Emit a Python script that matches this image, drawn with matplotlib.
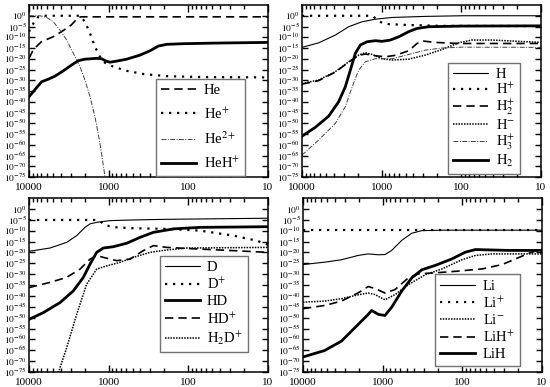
import numpy as np
import matplotlib
matplotlib.use('Agg')
import matplotlib.pyplot as plt
from matplotlib.ticker import FixedLocator, LogLocator, NullFormatter
from matplotlib.transforms import ScaledTranslation

plt.rcParams['font.family'] = ['Liberation Serif', 'DejaVu Serif']
plt.rcParams['mathtext.fontset'] = 'stix'

# ---- data: temperature (K) and log10 fractional abundance ----
# helium panel
he_T = [10000, 8800, 7000, 5000, 3900, 2950, 2400, 2200, 1000, 100, 10]
he_v = [-19.8, -15.7, -12.1, -9.8, -7.4, -4.3, -0.8, -0.5, -0.5, -0.5, -0.5]
hep_T = [10000, 8825, 7640, 6607, 2290, 1983, 1714, 1485, 1285, 1112, 874, 594, 367, 187, 71.4, 10]
hep_v = [-7.4, -3.6, -0.5, 0, 0, -2.8, -8.2, -14.4, -19.1, -21.9, -23.7, -25.6, -27.1, -28.1, -28.5, -28.7]
hepp_T = [10000, 7280, 5997, 4955, 4083, 3365, 2777, 2290, 1983, 1714, 1485, 1285, 1144, 1112]
hepp_v = [0, 0, -0.8, -2.8, -6.7, -11.3, -17.5, -23.7, -29.9, -37.7, -47, -59.4, -71.8, -75.2]
heh_T = [10000, 8407, 6934, 5716, 4717, 3706, 2914, 2403, 1983, 1415, 1225, 1080, 962, 794, 594,
         404, 303, 238, 187, 116, 44, 10]
heh_v = [-37.7, -34.3, -30.7, -29.5, -28.1, -25.6, -22.9, -20.9, -20.2, -19.8, -20, -21.1, -21.6,
         -21.1, -20.2, -18.3, -16.3, -14.1, -13.3, -13, -12.7, -12.4]

# hydrogen panel
h_T = [10000, 6180, 3818, 2595, 1765, 1200, 741, 283, 98, 10]
h_v = [-14.7, -12.6, -9.0, -5.1, -2.8, -1.6, -0.8, -0.3, 0, 0]
hp_T = [10000, 1322, 1145, 991, 817, 458, 175, 10]
hp_v = [0, 0, -1.7, -3.3, -3.9, -4.3, -4.7, -4.8]
h2p_T = [10000, 6180, 3818, 2595, 1945, 1603, 1200, 900, 674, 458, 360, 297, 212, 108, 10]
h2p_v = [-31.8, -30.2, -26.2, -21.6, -18.4, -17.8, -18.6, -19.1, -18.4, -16.3, -12.9, -11.8, -12.4,
         -12.9, -12.9]
hm_T = [10000, 6180, 3818, 2595, 1945, 1603, 1322, 991, 741, 458, 283, 175, 108, 73.5, 41.2, 10]
hm_v = [-31.5, -29.9, -26, -21.4, -18.3, -17.2, -18, -20, -20.6, -20.2, -18.3, -15.7, -12.6, -11.3,
        -11.3, -12.4]
h3p_T = [10000, 6180, 3818, 2857, 2356, 1945, 1603, 1200, 741, 458, 283, 175, 98, 10]
h3p_v = [-64.8, -57.8, -50.1, -42.3, -33.3, -25.3, -21.4, -20, -20, -18, -16, -15, -14.6, -14.7]
h2_T = [10000, 6802, 4627, 3467, 2857, 2473, 2141, 1853, 1528, 1200, 991, 778, 612, 458, 360,
        257, 98, 10]
h2_v = [-56, -51.9, -46.7, -40, -33, -25.3, -17.5, -13.6, -12.1, -11.6, -11.9, -11.3, -9.8, -7.4,
        -5.9, -5.1, -4.8, -4.7]

# deuterium panel
d_T = [10000, 5448, 3365, 2521, 1983, 1714, 1415, 962, 490, 187, 10]
d_v = [-19.5, -18, -15.4, -12.3, -8.5, -6.9, -6.2, -5.4, -5.1, -4.8, -4.3]
dp_T = [10000, 1415, 1225, 1059, 794, 490, 187, 71.4, 27.2, 13.9, 10]
dp_v = [-5.1, -5.1, -6.2, -7.7, -8.5, -8.9, -9.2, -10, -12.3, -14.6, -16.5]
hd_T = [10000, 6607, 4083, 2777, 2080, 1714, 1415, 1167, 874, 594, 404, 275, 154, 71.4, 10]
hd_v = [-50.8, -47.7, -43.1, -37.7, -31.5, -25.4, -20, -18, -17.4, -15.8, -13.1, -10.8, -9.2,
        -8.5, -8.2]
hdp_T = [10000, 5448, 3365, 2290, 1714, 1415, 1167, 794, 540, 367, 275, 187, 105, 27.2, 10]
hdp_v = [-36.2, -33.8, -31.5, -27.7, -23.1, -21.5, -22.3, -23.8, -23.1, -19.2, -16.9, -17.7,
         -18.2, -19.2, -20]
h2dp_T = [4285, 3365, 2521, 1888, 1415, 1059, 721, 490, 303, 187, 105, 10]
h2dp_v = [-75.4, -63.8, -48.5, -34.6, -27.7, -26.2, -24.6, -22.3, -20, -18.9, -18, -17.7]

# lithium panel
li_T = [10000, 5333, 3289, 2027, 1517, 1134, 935, 770, 577, 431, 322, 180, 10]
li_v = [-25.6, -24.5, -23.4, -21.4, -20.7, -21.1, -21, -19.1, -14.5, -11.2, -10, -9.8, -9.8]
lip_T = [10000, 10]
lip_v = [-9.6, -9.6]
lim_T = [10000, 5333, 3289, 2027, 1517, 1250, 935, 700, 475, 292, 180, 101, 68.5, 42.3, 10]
lim_v = [-42.9, -42.4, -41.3, -39.5, -38.7, -39.4, -41.8, -39.4, -34.8, -30.3, -27.6, -23.4,
         -21.4, -20.7, -20.7]
lihp_T = [10000, 5333, 3289, 2027, 1517, 1250, 935, 700, 475, 355, 219, 111, 56.5, 31.6, 21.5,
          14.6, 10]
lihp_v = [-45.9, -44.4, -42.4, -38.6, -35.7, -36.6, -38.7, -37.1, -31.7, -29.9, -29.4, -28.6,
          -27.6, -25.6, -23, -20.4, -18.4]
lih_T = [10000, 5333, 3289, 2200, 1517, 1376, 1134, 935, 770, 577, 431, 322, 219, 135, 91.6,
         68.5, 26.1, 10]
lih_v = [-68.1, -65.1, -60.8, -54.4, -48.5, -46.7, -48.5, -49, -45.2, -37.8, -31.7, -28, -26,
         -23, -19.9, -18.7, -19.1, -19.1]

# ---- line styles ----
thin = dict(color='k', lw=0.8, ls='-')
thick = dict(color='k', lw=2.0, ls='-')
dashed = dict(color='k', lw=1.2, ls=(0, (5, 3)))
dotted = dict(color='k', lw=1.6, ls=(0, (1, 2.6)))
fine = dict(color='k', lw=1.1, ls=(0, (1, 0.8)))
dashdot = dict(color='0.25', lw=0.7, ls=(0, (5, 1.5, 1, 1.5)))

panels = [
    ([29, 268, 5, 177], [(he_T, he_v, 'He', dashed), (hep_T, hep_v, 'He$^{+}$', dotted),
                         (hepp_T, hepp_v, 'He$^{2+}$', dashdot), (heh_T, heh_v, 'HeH$^{+}$', thick)],
     (245, 176), 0.6),
    ([302, 541, 5, 177], [(h_T, h_v, 'H', thin), (hp_T, hp_v, 'H$^{+}$', dotted),
                          (h2p_T, h2p_v, 'H$_2^{+}$', dashed), (hm_T, hm_v, 'H$^{-}$', fine),
                          (h3p_T, h3p_v, 'H$_3^{+}$', dashdot), (h2_T, h2_v, 'H$_2$', thick)],
     (520, 174), 0.05),
    ([29, 268, 198, 372], [(d_T, d_v, 'D', thin), (dp_T, dp_v, 'D$^{+}$', dotted),
                           (hd_T, hd_v, 'HD', thick), (hdp_T, hdp_v, 'HD$^{+}$', dashed),
                           (h2dp_T, h2dp_v, 'H$_2$D$^{+}$', fine)],
     (248, 352), 0.2),
    ([303, 542, 198, 372], [(li_T, li_v, 'Li', thin), (lip_T, lip_v, 'Li$^{+}$', dotted),
                            (lim_T, lim_v, 'Li$^{-}$', fine), (lihp_T, lihp_v, 'LiH$^{+}$', dashed),
                            (lih_T, lih_v, 'LiH', thick)],
     (520, 366), 0.18),
]

W, H = 550, 387
fig = plt.figure(figsize=(W / 100, H / 100), dpi=100)

ymaj = 10.0 ** np.arange(0, -80, -5)
ylab = [r'$10^{%d}$' % e for e in range(0, -80, -5)]
lift = ScaledTranslation(0, 2.5 / 72, fig.dpi_scale_trans)

for (l, r, t, b), series, (lx, ly), lsp in panels:
    ax = fig.add_axes([l / W, 1 - b / H, (r - l) / W, (b - t) / H])
    for T, v, name, st in series:
        ax.plot(T, 10.0 ** np.array(v), label=name, **st)
    ax.set_xscale('log')
    ax.set_yscale('log')
    ax.set_xlim(10000, 10)
    ax.set_ylim(1e-75, 1e5)
    ax.set_xticks([10000, 1000, 100, 10])
    ax.set_xticklabels(['10000', '1000', '100', '10'], fontsize=8)
    ax.xaxis.set_minor_locator(LogLocator(base=10, subs=np.arange(2, 10)))
    ax.xaxis.set_minor_formatter(NullFormatter())
    ax.yaxis.set_major_locator(FixedLocator(ymaj))
    ax.set_yticklabels(ylab, fontsize=6.8)
    low = ax.get_yticklabels()[-1]
    low.set_transform(low.get_transform() + lift)
    ax.yaxis.set_minor_locator(FixedLocator([]))
    ax.tick_params(which='both', direction='in', top=True, right=True, width=1.0, pad=1.5)
    ax.tick_params(axis='x', which='major', length=5, pad=4)
    ax.tick_params(axis='x', which='minor', length=3)
    ax.tick_params(axis='y', which='major', length=4.5)
    for s in ax.spines.values():
        s.set_linewidth(1.1)
    leg = ax.legend(loc='lower right', bbox_to_anchor=((lx - l) / (r - l), (b - ly) / (b - t)),
                    borderaxespad=0, fontsize=10.5, handlelength=2.4, handletextpad=0.5,
                    borderpad=0.35, labelspacing=lsp, fancybox=False, framealpha=1)
    leg.get_frame().set_edgecolor('0.45')
    leg.get_frame().set_linewidth(1.0)

fig.savefig('out.png', dpi=100)
